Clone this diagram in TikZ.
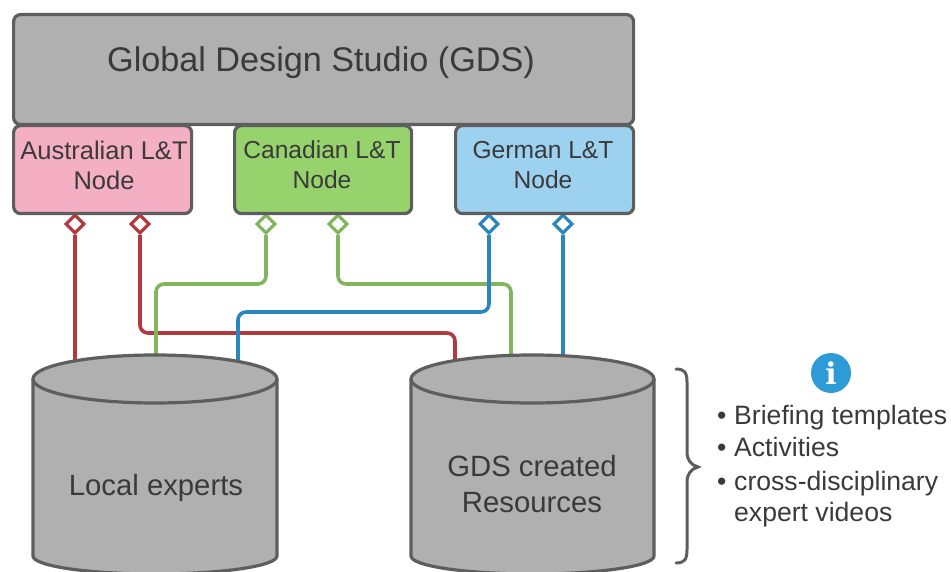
\documentclass[tikz,border=0pt]{standalone}
\usepackage{fontspec}
\setmainfont{Liberation Sans}
\newfontfamily\iconserif{DejaVu Serif}
\usetikzlibrary{shapes.geometric}
\definecolor{grayfill}{HTML}{B0B0B0}
\definecolor{edgegray}{HTML}{5E5E5E}
\definecolor{inkgray}{HTML}{3A3A3A}
\definecolor{pinkfill}{HTML}{F4AFC4}
\definecolor{greenfill}{HTML}{97D36D}
\definecolor{bluefill}{HTML}{9DD1F0}
\definecolor{redline}{HTML}{B23A3F}
\definecolor{greenline}{HTML}{82B55E}
\definecolor{blueline}{HTML}{2A86BD}
\definecolor{iconblue}{HTML}{2E9BD6}
\tikzset{
  boxbase/.style={draw=edgegray,line width=3.2pt,rounded corners=7pt,anchor=north west,inner sep=0pt,text=inkgray,align=center},
  portnode/.style={diamond,aspect=1,draw=#1,fill=white,line width=3.2pt,minimum size=19pt,inner sep=0pt},
  wire/.style={draw=#1,line width=3.6pt,rounded corners=8pt},
  cylshape/.style={draw=edgegray,fill=grayfill,line width=3.2pt},
  lab/.style={text=inkgray,font=\fontsize{29.3}{36}\selectfont,align=center},
  bul/.style={text=inkgray,font=\fontsize{26.6}{30}\selectfont,anchor=base west,inner sep=0pt},
  small/.style={text=inkgray,align=center,font=\fontsize{#1}{30}\selectfont}
}
\begin{document}
\begin{tikzpicture}[x=1pt,y=-1pt]
\useasboundingbox (0,0) rectangle (951,572);
% wires' free ends on the cylinder tops
\coordinate (a1) at (75,362);
\coordinate (a2) at (156,360);
\coordinate (a3) at (238,364);
\coordinate (b1) at (455,364);
\coordinate (b2) at (511,360);
\coordinate (b3) at (563,360);
% ports
\node[portnode=redline] (p1) at (75,224) {};
\node[portnode=redline] (p2) at (140,224) {};
\node[portnode=greenline] (p3) at (266,224) {};
\node[portnode=greenline] (p4) at (338,224) {};
\node[portnode=blueline] (p5) at (489,224) {};
\node[portnode=blueline] (p6) at (563,224) {};
% wires
\draw[wire=redline] (p1.south) -- (a1);
\draw[wire=redline] (p2.south) |- (297,333) -| (b1);
\draw[wire=greenline] (p3.south) |- (211,284) -| (a2);
\draw[wire=greenline] (p4.south) |- (425,284) -| (b2);
\draw[wire=blueline] (p5.south) |- (363,312) -| (a3);
\draw[wire=blueline] (p6.south) -- (b3);
% boxes
\node[boxbase,fill=grayfill,minimum width=620pt,minimum height=110pt] (gds) at (12,13) {};
\node[text=inkgray,font=\fontsize{34.2}{40}\selectfont] (gdslab) at (321,63) {Global Design Studio (GDS)};
\node[boxbase,fill=pinkfill,minimum width=178pt,minimum height=88pt] (aus) at (12,124) {};
\node[boxbase,fill=greenfill,minimum width=177pt,minimum height=88pt] (can) at (233,124) {};
\node[boxbase,fill=bluefill,minimum width=178pt,minimum height=88pt] (ger) at (454,124) {};
\node[small=25.5] (auslab) at (104,165) {Australian L\&T\\Node};
\node[small=24.6] (canlab) at (322,165) {Canadian L\&T\\Node};
\node[small=24.6] (gerlab) at (543,165) {German L\&T\\Node};
% cylinders
\draw[cylshape] (33,379) -- (33,556) arc[start angle=180,end angle=0,x radius=122,y radius=18] -- (277,379);
\draw[cylshape] (155,379) ellipse[x radius=122,y radius=24];
\node[lab] (local) at (156,488) {Local experts};
\draw[cylshape] (411,379) -- (411,556) arc[start angle=180,end angle=0,x radius=121.5,y radius=18] -- (654,379);
\draw[cylshape] (532.5,379) ellipse[x radius=121.5,y radius=24];
\node[lab] (res) at (532,484) {GDS created\\Resources};
% brace
\draw[edgegray,line width=3pt,line cap=round] (676,369) .. controls (684,369) and (687,372) .. (687,382) -- (687,452) .. controls (687,460) and (691,465) .. (698,467) .. controls (691,469) and (687,474) .. (687,482) -- (687,550) .. controls (687,560) and (684,563) .. (676,563);
% info icon
\node[circle,fill=iconblue,minimum size=40pt,inner sep=0pt,text=white,font=\iconserif\fontsize{30}{30}\selectfont\bfseries] (info) at (831,373) {i};
% list
\node[bul] (l1) at (734,424) {Briefing templates};
\node[bul] (l2) at (734,456) {Activities};
\node[bul] (l3) at (734,490) {cross-disciplinary};
\node[bul] (l4) at (734,521) {expert videos};
\node[bul] at (717,424) {•};
\node[bul] at (717,456) {•};
\node[bul] at (717,490) {•};
\end{tikzpicture}
\end{document}
